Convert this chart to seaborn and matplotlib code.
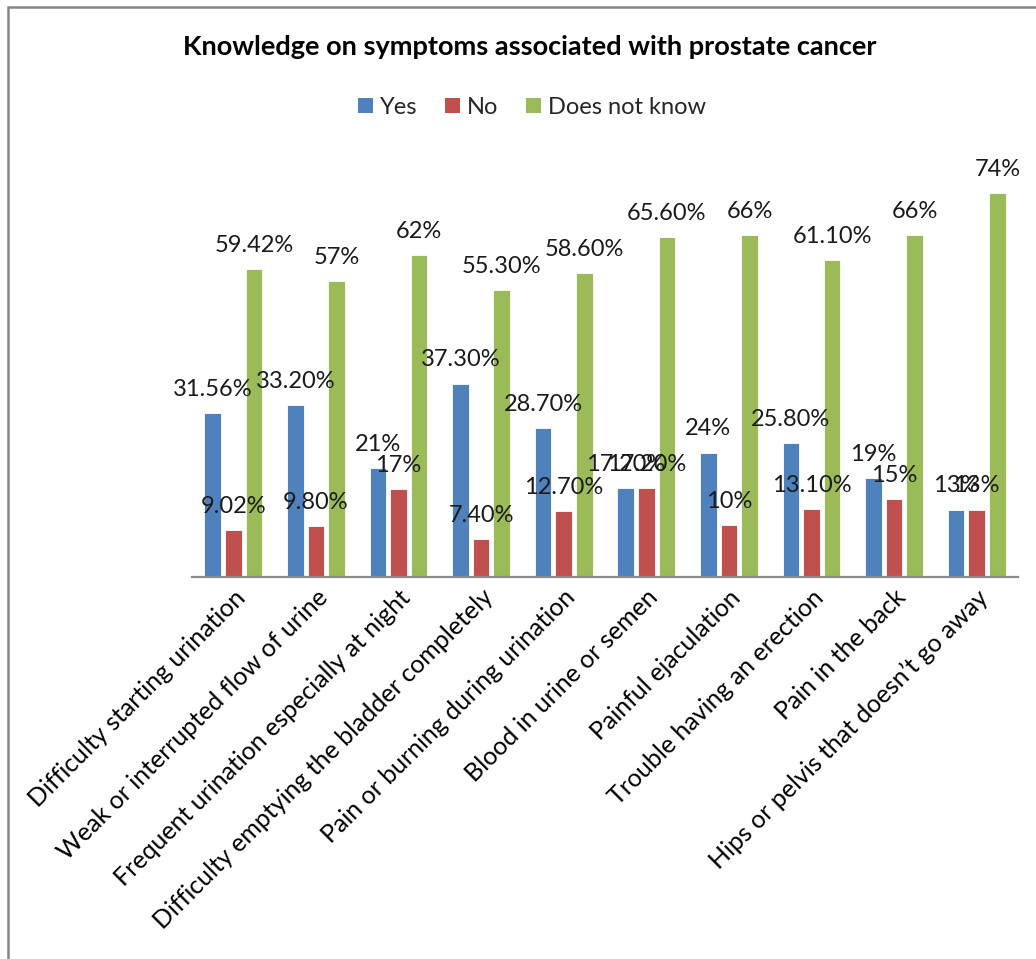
import matplotlib
matplotlib.use("Agg")
import matplotlib.pyplot as plt
from matplotlib.patches import Rectangle, Patch
import seaborn as sns
import pandas as pd

symptoms = [
    "Difficulty starting urination",
    "Weak or interrupted flow of urine",
    "Frequent urination especially at night",
    "Difficulty emptying the bladder completely",
    "Pain or burning during urination",
    "Blood in urine or semen",
    "Painful ejaculation",
    "Trouble having an erection",
    "Pain in the back",
    "Hips or pelvis that doesn\u2019t go away",
]
responses = ["Yes", "No", "Does not know"]
yes_pct = ["31.56", "33.20", "21", "37.30", "28.70", "17.20", "24", "25.80", "19", "13"]
no_pct = ["9.02", "9.80", "17", "7.40", "12.70", "17.20", "10", "13.10", "15", "13"]
dnk_pct = ["59.42", "57", "62", "55.30", "58.60", "65.60", "66", "61.10", "66", "74"]
colors = ["#4F81BD", "#C0504D", "#9BBB59"]

rows = []
for resp, vals in zip(responses, [yes_pct, no_pct, dnk_pct]):
    for sym, v in zip(symptoms, vals):
        rows.append({"symptom": sym, "response": resp, "value": float(v), "label": v + "%"})
df = pd.DataFrame(rows)

sns.set_theme(style="white")
plt.rcParams["font.family"] = ["Lato", "DejaVu Sans"]

fig = plt.figure(figsize=(10.36, 9.59), dpi=100)
ax = fig.add_axes([192 / 1036, 1 - 577 / 959, 826 / 1036, 415 / 959])

sns.barplot(data=df, x="symptom", y="value", hue="response", order=symptoms,
            hue_order=responses, palette=colors, width=0.75, gap=0.2,
            saturation=1, edgecolor="white", linewidth=0.6, ax=ax, legend=False)

ax.set_ylim(0, 80)
ax.set_xlim(-0.5, len(symptoms) - 0.5)
ax.set_xlabel("")
ax.set_ylabel("")
ax.set_yticks([])
for side in ["top", "right", "left"]:
    ax.spines[side].set_visible(False)
ax.spines["bottom"].set_color("#8C8C8C")
ax.spines["bottom"].set_linewidth(1.6)
ax.tick_params(axis="x", length=0, pad=12)
ax.set_xticks(range(len(symptoms)))
ax.set_xticklabels(symptoms, rotation=45, ha="right", va="center",
                   rotation_mode="anchor", fontsize=18, color="#000000")
for lbl in ax.get_xticklabels():
    lbl.set_x(lbl.get_position()[0])
# nudge rotated labels slightly right of the category centre
from matplotlib.transforms import ScaledTranslation
offset = ScaledTranslation(8 / 100, 0, fig.dpi_scale_trans)
for lbl in ax.get_xticklabels():
    lbl.set_transform(lbl.get_transform() + offset)

# value labels above each bar
for container, resp in zip(ax.containers, responses):
    sub = df[df["response"] == resp].set_index("symptom").loc[symptoms]
    for bar, lab in zip(container, sub["label"]):
        ax.annotate(lab, (bar.get_x() + bar.get_width() / 2, bar.get_height()),
                    xytext=(0, 17), textcoords="offset points",
                    ha="center", va="center", fontsize=17, color="#1a1a1a",
                    annotation_clip=False)

fig.text(530 / 1036, 1 - 47 / 959, "Knowledge on symptoms associated with prostate cancer",
         ha="center", va="center", fontsize=19.5, fontweight="bold", color="#000000")

handles = [Patch(facecolor=c, edgecolor="none") for c in colors]
fig.legend(handles, responses, loc="center", bbox_to_anchor=(532 / 1036, 1 - 107 / 959),
           ncol=3, frameon=False, fontsize=17, handlelength=0.6, handleheight=0.6,
           handletextpad=0.3, columnspacing=1.2)

# chart frame (top and left edges)
fig.patches.append(Rectangle((7.5 / 1036, -0.05), 1.2, 1.05 - 7.5 / 959,
                             transform=fig.transFigure, fill=False,
                             edgecolor="#868686", linewidth=1.8))

fig.savefig("out.png", dpi=100)
